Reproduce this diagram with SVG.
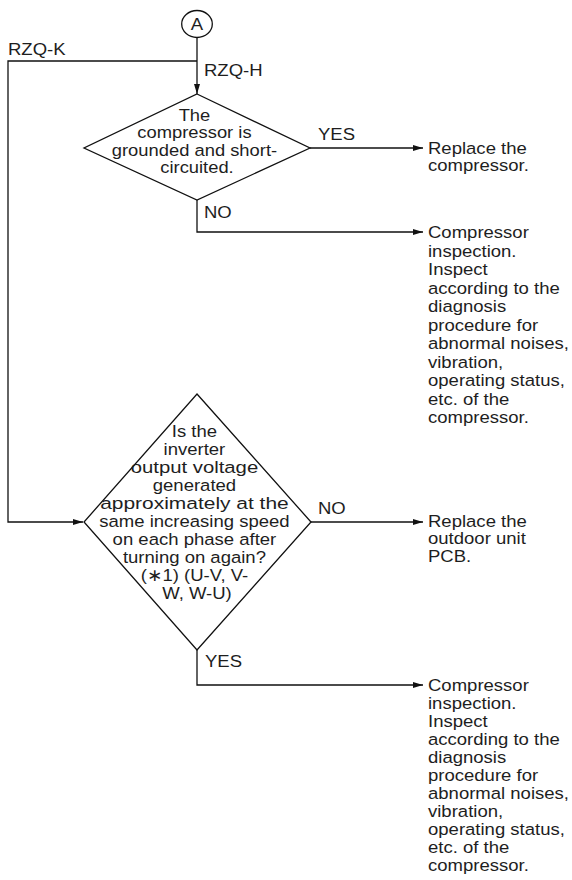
<svg xmlns="http://www.w3.org/2000/svg" width="572" height="880" viewBox="0 0 572 880">
  <style>
    .ln { fill: none; stroke: #111; stroke-width: 1.3; }
    .shape { fill: #fff; stroke: #111; stroke-width: 1.3; }
    .t { font-family: "Liberation Sans", Arial, sans-serif; font-size: 17px; fill: #1e1e1e; }
    .c { text-anchor: middle; }
  </style>
  <defs>
    <marker id="arrow" viewBox="0 0 10 6" refX="10" refY="3" markerWidth="10" markerHeight="6" markerUnits="userSpaceOnUse" orient="auto">
      <path d="M0,0 L10,3 L0,6 z" fill="#111"/>
    </marker>
  </defs>

  <!-- connectors -->
  <g id="connectors">
    <path class="ln" d="M197,37.5 V94" marker-end="url(#arrow)"/>
    <path class="ln" d="M197,61 H8 V522 H83" marker-end="url(#arrow)"/>
    <path class="ln" d="M310,148 H423" marker-end="url(#arrow)"/>
    <path class="ln" d="M197,200 V232 H423" marker-end="url(#arrow)"/>
    <path class="ln" d="M311,522 H423" marker-end="url(#arrow)"/>
    <path class="ln" d="M197,650 V685 H423" marker-end="url(#arrow)"/>
  </g>

  <!-- branch labels -->
  <g id="labels">
    <text class="t" transform="matrix(1.09 0 0 1 8 0)" x="0" y="55.5">RZQ-K</text>
    <text class="t" transform="matrix(1.09 0 0 1 204 0)" x="0" y="76">RZQ-H</text>
    <text class="t" transform="matrix(1.09 0 0 1 318 0)" x="0" y="140">YES</text>
    <text class="t" transform="matrix(1.09 0 0 1 204 0)" x="0" y="218.5">NO</text>
    <text class="t" transform="matrix(1.09 0 0 1 318 0)" x="0" y="514">NO</text>
    <text class="t" transform="matrix(1.09 0 0 1 205 0)" x="0" y="667">YES</text>
  </g>

  <!-- connector A -->
  <g id="connA">
    <ellipse class="shape" cx="197" cy="24" rx="15.3" ry="13.5"/>
    <text class="t c" transform="matrix(1.09 0 0 1 197 0)" x="0" y="30.5">A</text>
  </g>

  <!-- decision: compressor grounded -->
  <g id="decision1">
    <polygon class="shape" points="197,94 310,148 197,200 84,148"/>
    <text class="t c" transform="matrix(1.08 0 0 1 197 0)">
      <tspan x="0" y="121">The</tspan>
      <tspan x="0" y="138.5">compressor is</tspan>
      <tspan x="0" y="156">grounded and short-</tspan>
      <tspan x="0" y="173.5">circuited.</tspan>
    </text>
  </g>

  <g id="result1">
    <text class="t" transform="matrix(1.09 0 0 1 428 0)">
      <tspan x="0" y="154">Replace the</tspan>
      <tspan x="0" y="171.5">compressor.</tspan>
    </text>
  </g>

  <g id="result2">
    <text class="t" transform="matrix(1.09 0 0 1 428 0)">
      <tspan x="0" y="238.5">Compressor</tspan>
      <tspan x="0" y="257">inspection.</tspan>
      <tspan x="0" y="275.5">Inspect</tspan>
      <tspan x="0" y="294">according to the</tspan>
      <tspan x="0" y="312.5">diagnosis</tspan>
      <tspan x="0" y="331">procedure for</tspan>
      <tspan x="0" y="349.5">abnormal noises,</tspan>
      <tspan x="0" y="368">vibration,</tspan>
      <tspan x="0" y="386.5">operating status,</tspan>
      <tspan x="0" y="405">etc. of the</tspan>
      <tspan x="0" y="423.5">compressor.</tspan>
    </text>
  </g>

  <!-- decision: inverter output voltage -->
  <g id="decision2">
    <polygon class="shape" points="197,394 311,522 197,650 84,522"/>
    <text class="t c" transform="matrix(1.09 0 0 1 197 0)">
      <tspan x="0" y="437">Is the</tspan>
      <tspan x="0" y="455">inverter</tspan>
      <tspan x="0" y="473" textLength="117" lengthAdjust="spacingAndGlyphs">output voltage</tspan>
      <tspan x="0" y="491">generated</tspan>
      <tspan x="0" y="509" textLength="173" lengthAdjust="spacingAndGlyphs">approximately at the</tspan>
      <tspan x="0" y="527">same increasing speed</tspan>
      <tspan x="0" y="545">on each phase after</tspan>
      <tspan x="0" y="563">turning on again?</tspan>
      <tspan x="0" y="581">(∗1) (U-V, V-</tspan>
      <tspan x="0" y="599">W, W-U)</tspan>
    </text>
  </g>

  <g id="result3">
    <text class="t" transform="matrix(1.09 0 0 1 428 0)">
      <tspan x="0" y="527">Replace the</tspan>
      <tspan x="0" y="544.5">outdoor unit</tspan>
      <tspan x="0" y="562">PCB.</tspan>
    </text>
  </g>

  <g id="result4">
    <text class="t" transform="matrix(1.09 0 0 1 428 0)">
      <tspan x="0" y="691.5">Compressor</tspan>
      <tspan x="0" y="709.5">inspection.</tspan>
      <tspan x="0" y="727.5">Inspect</tspan>
      <tspan x="0" y="745.5">according to the</tspan>
      <tspan x="0" y="763.5">diagnosis</tspan>
      <tspan x="0" y="781.5">procedure for</tspan>
      <tspan x="0" y="799.5">abnormal noises,</tspan>
      <tspan x="0" y="817.5">vibration,</tspan>
      <tspan x="0" y="835.5">operating status,</tspan>
      <tspan x="0" y="853.5">etc. of the</tspan>
      <tspan x="0" y="871.5">compressor.</tspan>
    </text>
  </g>
</svg>
